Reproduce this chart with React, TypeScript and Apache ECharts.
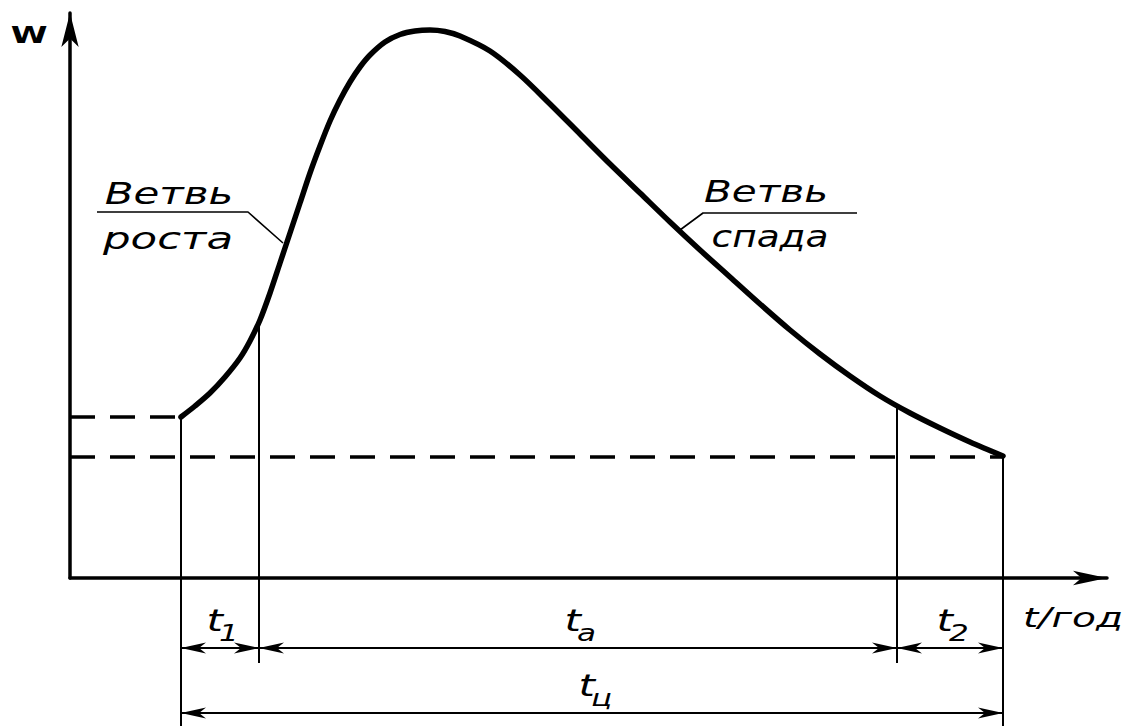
import React, { useEffect, useRef } from "react";
import * as echarts from "echarts";

// ---- values (drawing units: t along x, W along y) ----
const curveT = [11.1, 12.5, 14.0, 15.5, 17.0, 18.0, 19.0, 20.0, 21.0, 22.0, 23.0, 24.0, 25.0, 26.0, 27.0, 28.0, 29.0, 30.0, 31.5, 33.0, 34.5, 36.0, 37.5, 39.0, 42.0, 45.0, 48.0, 51.0, 54.0, 57.0, 60.0, 63.0, 66.0, 69.0, 72.0, 75.0, 78.0, 81.0, 84.0, 87.0, 90.0, 93.3];
const curveW = [16.1, 17.2, 18.5, 20.1, 22.0, 23.7, 25.8, 28.5, 31.5, 34.5, 37.5, 40.5, 43.2, 45.7, 47.8, 49.6, 51.1, 52.3, 53.6, 54.35, 54.7, 54.8, 54.65, 54.2, 52.7, 50.3, 47.4, 44.4, 41.4, 38.5, 35.6, 32.8, 30.1, 27.4, 24.8, 22.4, 20.2, 18.2, 16.5, 15.0, 13.6, 12.2];

const tStart = 11.1;
const t1End = 18.9;
const t2Start = 82.7;
const tEnd = 93.3;
const wStart = 16.1;
const wEnd = 12.1;
const wAtT1End = 25.8;
const wAtT2Start = 17.2;

const dimRow = -7.0;
const totalRow = -13.5;
const extShortBottom = -8.5;
const extLongBottom = -14.8;

const xMax = 103.7;
const yMax = 56.5;

const extT = [tStart, t1End, t2Start, tEnd];
const extTop = [wStart, wAtT1End, wAtT2Start, wEnd];
const extBottom = [extLongBottom, extShortBottom, extShortBottom, extLongBottom];

const dimFrom = [tStart, t1End, t2Start, tStart];
const dimTo = [t1End, t2Start, tEnd, tEnd];
const dimRowW = [dimRow, dimRow, dimRow, totalRow];
const dimMain = ["t", "t", "t", "t"];
const dimSub = ["1", "а", "2", "ц"];

const rostLeaderT = [2.7, 17.8, 21.3];
const rostLeaderW = [36.6, 36.6, 33.5];
const spadLeaderT = [61.0, 63.3, 78.7];
const spadLeaderW = [34.8, 36.5, 36.5];

const branchWord = "Ветвь";
const growthWord = "роста";
const declineWord = "спада";
const yName = "W";
const xName = "t/год";

const INK = "#000000";
const FONT = "'DejaVu Sans', sans-serif";

const zip = (a: number[], b: number[]) => a.map((v, i) => [v, b[i]]);

const arrowHead = (tip: number[], ux: number, uy: number, len: number, half: number) => ({
  type: "polygon",
  shape: {
    points: [
      [tip[0], tip[1]],
      [tip[0] - ux * len - uy * half, tip[1] - uy * len + ux * half],
      [tip[0] - ux * len * 0.72, tip[1] - uy * len * 0.72],
      [tip[0] - ux * len + uy * half, tip[1] - uy * len - ux * half],
    ],
  },
  style: { fill: INK },
});

export default function App() {
  const ref = useRef<HTMLDivElement>(null);

  useEffect(() => {
    document.body.style.margin = "0";
    const chart = echarts.init(ref.current!, null, { renderer: "svg" });

    const textStyle = (text: string, size: number, extra: any = {}) => ({
      text,
      fontSize: size,
      fontStyle: "italic",
      fontFamily: FONT,
      fill: INK,
      align: "center",
      verticalAlign: "middle",
      ...extra,
    });

    chart.setOption({
      animation: false,
      backgroundColor: "#ffffff",
      tooltip: { show: false },
      grid: { left: 70, right: 21, top: 13, bottom: 148, outerBoundsMode: "none" },
      xAxis: {
        type: "value",
        min: 0,
        max: xMax,
        axisLine: {
          show: true,
          onZero: true,
          symbol: ["none", "arrow"],
          symbolSize: [11, 34],
          lineStyle: { color: INK, width: 3.5 },
        },
        axisTick: { show: false },
        axisLabel: { show: false },
        splitLine: { show: false },
      },
      yAxis: {
        type: "value",
        min: 0,
        max: yMax,
        axisLine: {
          show: true,
          onZero: true,
          symbol: ["none", "arrow"],
          symbolSize: [13, 34],
          lineStyle: { color: INK, width: 3.5 },
        },
        axisTick: { show: false },
        axisLabel: { show: false },
        splitLine: { show: false },
      },
      series: [
        {
          name: "upper level",
          type: "line",
          data: [[0, wStart], [tStart, wStart]],
          symbol: "none",
          silent: true,
          lineStyle: { color: INK, width: 3.5, type: [25, 15] },
          z: 2,
        },
        {
          name: "lower level",
          type: "line",
          data: [[0, wEnd], [tEnd, wEnd]],
          symbol: "none",
          silent: true,
          lineStyle: { color: INK, width: 3.5, type: [25, 15] },
          z: 2,
        },
        {
          name: "W(t)",
          type: "line",
          data: zip(curveT, curveW),
          symbol: "none",
          smooth: 0.3,
          clip: false,
          silent: true,
          lineStyle: { color: INK, width: 5.5, cap: "round", join: "round" },
          z: 5,
        },
        {
          name: "leader growth",
          type: "line",
          data: zip(rostLeaderT, rostLeaderW),
          symbol: "none",
          silent: true,
          lineStyle: { color: INK, width: 1.6 },
          z: 3,
        },
        {
          name: "leader decline",
          type: "line",
          data: zip(spadLeaderT, spadLeaderW),
          symbol: "none",
          silent: true,
          lineStyle: { color: INK, width: 1.6 },
          z: 3,
        },
        {
          name: "extension lines",
          type: "custom",
          silent: true,
          clip: false,
          data: extT.map((t, i) => [t, extTop[i], extBottom[i]]),
          renderItem: (params: any, api: any) => {
            const a = api.coord([api.value(0), api.value(1)]);
            const b = api.coord([api.value(0), api.value(2)]);
            return {
              type: "line",
              shape: { x1: a[0], y1: a[1], x2: b[0], y2: b[1] },
              style: { stroke: INK, lineWidth: 2 },
            };
          },
          z: 3,
        },
        {
          name: "dimensions",
          type: "custom",
          silent: true,
          clip: false,
          data: dimFrom.map((f, i) => [f, dimTo[i], dimRowW[i]]),
          renderItem: (params: any, api: any) => {
            const i = params.dataIndex;
            const p1 = api.coord([api.value(0), api.value(2)]);
            const p2 = api.coord([api.value(1), api.value(2)]);
            const mid = (p1[0] + p2[0]) / 2;
            return {
              type: "group",
              children: [
                {
                  type: "line",
                  shape: { x1: p1[0], y1: p1[1], x2: p2[0], y2: p2[1] },
                  style: { stroke: INK, lineWidth: 2 },
                },
                arrowHead(p1, -1, 0, 25, 5.5),
                arrowHead(p2, 1, 0, 25, 5.5),
                {
                  type: "text",
                  x: mid + 3,
                  y: p1[1] - 27,
                  scaleX: 1.4,
                  style: textStyle(dimMain[i], 30, { align: "right" }),
                },
                {
                  type: "text",
                  x: mid - 1,
                  y: p1[1] - 15,
                  scaleX: 1.35,
                  style: textStyle(dimSub[i], 23, { align: "left" }),
                },
              ],
            };
          },
          z: 4,
        },
      ],
      graphic: [
        { type: "text", x: 29, y: 35, scaleX: 1.45, silent: true, style: textStyle(yName, 23, { fontStyle: "normal", fontWeight: "bold" }) },
        { type: "text", x: 1073, y: 618, scaleX: 1.45, silent: true, style: textStyle(xName, 27) },
        { type: "text", x: 169, y: 194, scaleX: 1.4, silent: true, style: textStyle(branchWord, 30) },
        { type: "text", x: 168, y: 239, scaleX: 1.45, silent: true, style: textStyle(growthWord, 30) },
        { type: "text", x: 766, y: 191, scaleX: 1.35, silent: true, style: textStyle(branchWord, 30) },
        { type: "text", x: 770, y: 236, scaleX: 1.25, silent: true, style: textStyle(declineWord, 30) },
      ],
    });

    return () => chart.dispose();
  }, []);

  return (
    <div
      ref={ref}
      style={{ position: "absolute", left: 0, top: 0, width: 1128, height: 726, background: "#fff" }}
    />
  );
}
